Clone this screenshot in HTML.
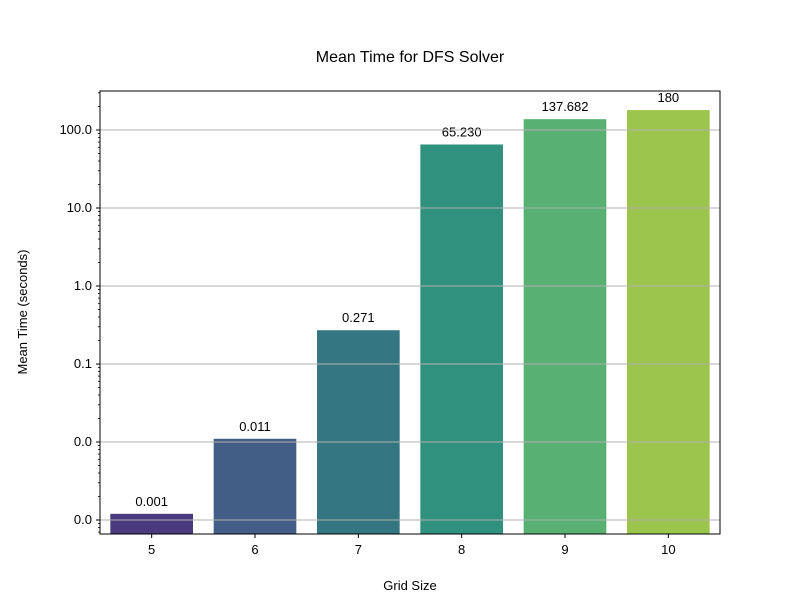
<!DOCTYPE html>
<html><head><meta charset="utf-8"><style>body{margin:0;background:#fff}svg{display:block;font-family:"Liberation Sans",sans-serif}</style></head>
<body>
<svg id="chart" width="800" height="600">
<rect width="800" height="600" fill="#fff"/>
<text x="410" y="62" text-anchor="middle" font-size="16">Mean Time for DFS Solver</text>
<g id="bars"></g><g id="grid"></g><g id="axes"></g>
<text x="410" y="590" text-anchor="middle" font-size="13">Grid Size</text>
<text transform="translate(27,312) rotate(-90)" text-anchor="middle" font-size="13">Mean Time (seconds)</text>
</svg>
<script>
const categories=["5","6","7","8","9","10"];
const values=[0.0012,0.011,0.271,65.23,137.682,180];
const valueLabels=["0.001","0.011","0.271","65.230","137.682","180"];
const colors=["#4a3a7e","#425e87","#347782","#30917e","#58b173","#9bc54c"];
const yTicks=[0.001,0.01,0.1,1,10,100];
const yTickLabels=["0.0","0.0","0.1","1.0","10.0","100.0"];
const NS="http://www.w3.org/2000/svg";
const L=100,R=720,T=91,B=534;
const y=v=>130-(Math.log10(v)-2)*78;
const band=(R-L)/categories.length;
const x=i=>L+band*(i+0.5);
function mk(t,a,p){const e=document.createElementNS(NS,t);for(const k in a)e.setAttribute(k,a[k]);p.appendChild(e);return e;}
const g=document.getElementById('grid'),b=document.getElementById('bars'),ax=document.getElementById('axes');
yTicks.forEach((v,i)=>{
const ln=mk('line',{x1:L,x2:R,y1:y(v),y2:y(v),stroke:'#b0b0b0','stroke-width':1},g);


mk('line',{x1:L-4,x2:L,y1:y(v),y2:y(v),stroke:'#000'},ax);
const t=mk('text',{x:L-8,y:y(v)+4,'text-anchor':'end','font-size':13},ax);
t.textContent=yTickLabels[i];


});
for(let d=-4;d<=2;d++)for(let m=2;m<10;m++){const yy=y(m*Math.pow(10,d));if(yy>T&&yy<B)mk('line',{x1:L-2,x2:L,y1:yy,y2:yy,stroke:'#000','stroke-width':0.8},ax);}
values.forEach((v,i)=>{
const w=band*0.8,top=y(v);
const r=mk('rect',{x:x(i)-w/2,y:top,width:w,height:B-top,fill:colors[i]},b);


const t=mk('text',{x:x(i),y:top-8,'text-anchor':'middle','font-size':13},b);
t.textContent=valueLabels[i];


mk('line',{x1:x(i),x2:x(i),y1:B,y2:B+4,stroke:'#000'},ax);
const c=mk('text',{x:x(i),y:B+20,'text-anchor':'middle','font-size':13},ax);
c.textContent=categories[i];


});
const f=mk('rect',{x:L,y:T,width:R-L,height:B-T,fill:'none',stroke:'#000','stroke-width':1},ax);


</script>
</body></html>
